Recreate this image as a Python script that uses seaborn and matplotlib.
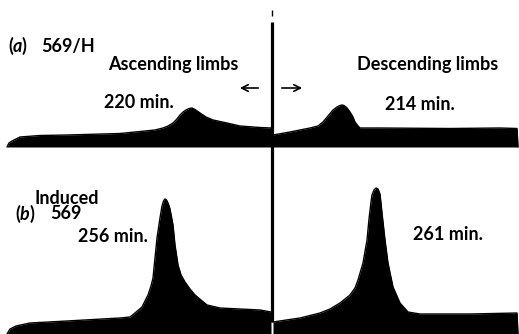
import numpy as np
import pandas as pd
import matplotlib
matplotlib.use("Agg")
import matplotlib.pyplot as plt
import seaborn as sns

# (a) 569/H profiles, height above the baseline
a_asc_pos = [7, 9, 12, 20, 40, 67, 120, 155, 163, 168, 173, 177, 180, 183, 186, 189, 192,
             195, 200, 206, 213, 227, 240, 260, 271]
a_asc_h = [0, 4, 6, 10, 11.5, 12, 13.5, 17, 19, 21, 24, 28, 32, 35, 37, 38.5, 39,
           37.5, 34, 30, 27, 24, 21, 19.5, 19]
a_desc_pos = [273, 290, 310, 318, 323, 328, 333, 337, 340, 342, 344, 347, 350, 353, 355,
              358, 360, 380, 450, 500, 517, 518]
a_desc_h = [12, 15, 19, 21, 25, 31, 37, 40, 41.5, 42, 41.5, 39, 35, 30, 25,
            21, 19, 19, 18.5, 19, 18.5, 0]

# (b) Induced 569 profiles
b_asc_pos = [7, 10, 16, 30, 67, 120, 130, 135, 142, 148, 151, 153, 155, 157, 160, 162, 163.5,
             165, 166.5, 168, 170, 173, 175, 178, 181, 185, 190, 195, 207, 220, 240, 260, 271]
b_asc_h = [0, 5, 8, 11, 13, 16, 17, 21, 27, 39, 48, 56, 76, 96, 116, 128, 133,
           135, 134, 131, 125, 109, 89, 69, 59, 52, 45, 39, 29, 26, 25, 24, 22]
b_desc_pos = [273, 300, 320, 330, 340, 350, 355, 358, 363, 367, 369, 371, 372, 374, 376,
              378, 380, 382, 385, 388, 393, 400, 408, 420, 470, 517, 518]
b_desc_h = [12, 16, 21, 25, 31, 39, 46, 54, 71, 94, 115, 132, 139, 144, 146,
            145, 140, 121, 94, 71, 47, 31, 22, 20, 20, 21, 0]

labels_a = ["(a)", "569/H"]
labels_b = ["Induced", "(b)", "569"]
limb_titles = ["Ascending limbs", "Descending limbs"]
times_a = ["220 min.", "214 min."]
times_b = ["256 min.", "261 min."]

sns.set_theme(style="white")
plt.rcParams["font.family"] = ["Lato", "DejaVu Sans"]

fig = plt.figure(figsize=(5.19, 3.34), dpi=100)
ax = fig.add_axes([0, 0, 1, 1])
ax.set_xlim(0, 519)
ax.set_ylim(334, 0)
ax.axis("off")

base_a = 147
base_b = 334

for pos, h, base in [(a_asc_pos, a_asc_h, base_a), (a_desc_pos, a_desc_h, base_a),
                     (b_asc_pos, b_asc_h, base_b), (b_desc_pos, b_desc_h, base_b)]:
    df = pd.DataFrame({"pos": pos, "top": base - np.array(h, dtype=float)})
    sns.lineplot(data=df, x="pos", y="top", ax=ax, color="black", linewidth=1.0,
                 sort=False, estimator=None)
    ax.fill_between(df["pos"], df["top"], base, color="black", linewidth=0)

# divider between the limbs
ax.plot([272, 272], [22, 322], color="black", linewidth=2.3, solid_capstyle="butt")
ax.plot([272, 272], [10, 16], color="black", linewidth=1.0, solid_capstyle="butt")

fs = 13
kw = dict(color="black", fontsize=fs, fontweight="bold", va="baseline")
ax.text(8, 52, "(", **kw)
ax.text(13, 52, "a", style="italic", **kw)
ax.text(21, 52, ")", **kw)
ax.text(41, 52, labels_a[1], **kw)
ax.text(108, 70, limb_titles[0], **kw)
ax.text(357, 70, limb_titles[1], **kw)
ax.text(104, 108, times_a[0], **kw)
ax.text(385, 110, times_a[1], **kw)
ax.annotate("", xy=(237, 88), xytext=(261, 88),
            arrowprops=dict(arrowstyle="->", color="black", lw=1.2))
ax.annotate("", xy=(305, 88), xytext=(279, 88),
            arrowprops=dict(arrowstyle="->", color="black", lw=1.2))

# "Induced" stacked over "569" as one block
ax.text(34, 219, labels_b[0] + "\n" + labels_b[2], multialignment="center",
        linespacing=0.85, **kw)
ax.text(15, 220, "(", **kw)
ax.text(20, 220, "b", style="italic", **kw)
ax.text(29, 220, ")", **kw)
ax.text(78, 242, times_b[0], **kw)
ax.text(413, 240, times_b[1], **kw)

fig.savefig("out.png", dpi=100)
